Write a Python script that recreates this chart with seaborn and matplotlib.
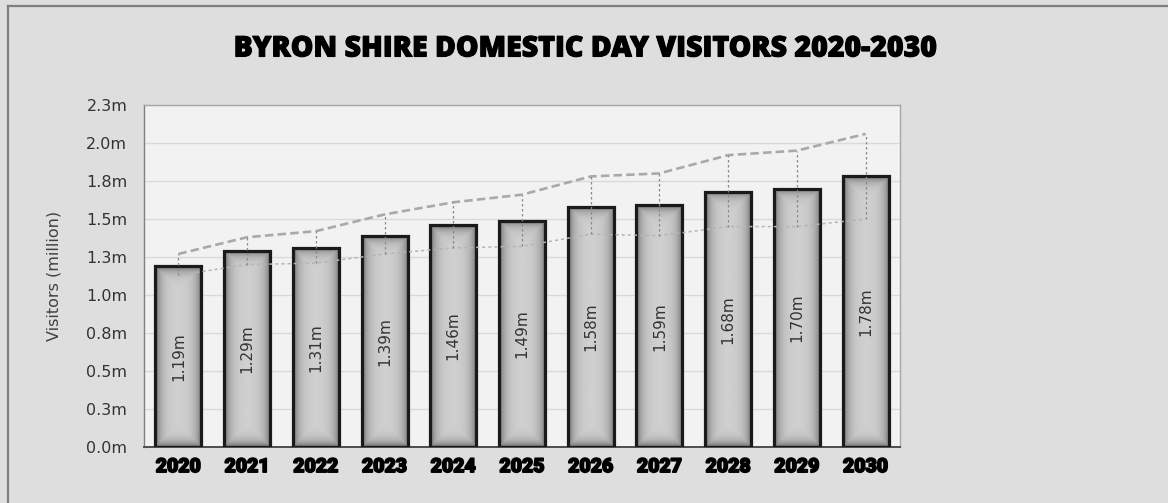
import numpy as np
import pandas as pd
import matplotlib
matplotlib.use("Agg")
import matplotlib.pyplot as plt
import matplotlib.patheffects as pe
from matplotlib.lines import Line2D
import seaborn as sns

# ---- data -------------------------------------------------------------
years = ["2020", "2021", "2022", "2023", "2024", "2025",
         "2026", "2027", "2028", "2029", "2030"]
visitors = [1.19, 1.29, 1.31, 1.39, 1.46, 1.49, 1.58, 1.59, 1.68, 1.70, 1.78]
upper_range = [1.27, 1.38, 1.42, 1.53, 1.61, 1.66, 1.78, 1.80, 1.92, 1.95, 2.06]
lower_range = [1.13, 1.20, 1.21, 1.27, 1.31, 1.32, 1.40, 1.39, 1.45, 1.45, 1.50]
y_ticks = [0.0, 0.25, 0.5, 0.75, 1.0, 1.25, 1.5, 1.75, 2.0, 2.25]
y_tick_labels = ["0.0m", "0.3m", "0.5m", "0.8m", "1.0m",
                 "1.3m", "1.5m", "1.8m", "2.0m", "2.3m"]
title = "BYRON SHIRE DOMESTIC DAY VISITORS 2020-2030"
y_label = "Visitors (million)"

df = pd.DataFrame({"year": years, "visitors": visitors})

W, H = 1168, 503
fig = plt.figure(figsize=(W / 100, H / 100), dpi=100, facecolor="#dedede")
ax = fig.add_axes([144 / W, 1 - 447 / H, 756 / W, 342 / H])
ax.set_facecolor("#f2f2f2")

sns.barplot(data=df, x="year", y="visitors", ax=ax, width=0.67,
            color="#cccccc", edgecolor="#1a1a1a", linewidth=2.3, zorder=3)

ax.set_xlim(-0.5, len(years) - 0.5)
ax.set_ylim(0, 2.25)


def bar_shade(nx, ny, light=0.82, dark=0.38, scale=5.5):
    """Grey fill that darkens towards every edge of a bar."""
    xs = np.arange(nx) + 0.5
    ys = np.arange(ny) + 0.5
    dx = np.minimum(xs, nx - xs)
    dy = np.minimum(ys, ny - ys)
    d = np.minimum(dx[None, :], dy[:, None])
    return light - (light - dark) * np.exp(-d / scale)


for patch in list(ax.patches):
    x0, y0 = patch.get_x(), patch.get_y()
    x1, y1 = x0 + patch.get_width(), y0 + patch.get_height()
    (px0, py0), (px1, py1) = ax.transData.transform([(x0, y0), (x1, y1)])
    nx, ny = max(int(round(px1 - px0)), 2), max(int(round(py1 - py0)), 2)
    im = ax.imshow(bar_shade(nx, ny), cmap="gray", vmin=0, vmax=1,
                   extent=(x0, x1, y0, y1), origin="lower", aspect="auto",
                   interpolation="bilinear", zorder=2.9)
    im.set_clip_path(patch)
    patch.set_facecolor("none")

xpos = np.arange(len(years))
ax.plot(xpos, upper_range, color="#a9a9a9", lw=1.9,
        linestyle=(0, (3.2, 1.6)), zorder=4)
ax.plot(xpos, lower_range, color="#b4b4b4", lw=1.1,
        linestyle=(0, (2, 2)), zorder=4)
ax.vlines(xpos, lower_range, upper_range, colors="#8a8a8a", lw=0.9,
          linestyles=(0, (2, 2)), zorder=4)

for i, v in enumerate(visitors):
    ax.text(i, v / 2, f"{v:.2f}m", rotation=90, ha="center", va="center",
            fontsize=11, color="#333333", zorder=5)

ax.set_xlim(-0.5, len(years) - 0.5)
ax.set_ylim(0, 2.25)
ax.set_yticks(y_ticks)
ax.set_yticklabels(y_tick_labels)
ax.yaxis.grid(True, color="#d9d9d9", lw=1)
ax.xaxis.grid(False)
ax.set_axisbelow(True)
ax.tick_params(axis="y", length=0, pad=12, labelsize=11.5, labelcolor="#333333")
ax.tick_params(axis="x", length=0, pad=8)
for lbl in ax.get_xticklabels():
    lbl.set_fontfamily(["Roboto", "DejaVu Sans"])
    lbl.set_fontweight(900)
    lbl.set_fontsize(14)
    lbl.set_color("#000000")
    lbl.set_path_effects([pe.withStroke(linewidth=1.2, foreground="#000000")])

ax.set_xlabel("")
ax.set_ylabel(y_label, fontsize=11.5, color="#404040")
ax.yaxis.set_label_coords((62 - 144) / 756, 0.5)

for side in ("top", "right", "left"):
    ax.spines[side].set_color("#a6a6a6")
    ax.spines[side].set_linewidth(1)
ax.spines["left"].set_color("#808080")
ax.spines["bottom"].set_color("#4d4d4d")
ax.spines["bottom"].set_linewidth(1.4)

fig.text(0.502, 1 - 49 / H, title, ha="center", va="center",
         fontsize=20.5, fontweight=800, family=["Open Sans", "DejaVu Sans"],
         color="#000000",
         path_effects=[pe.withStroke(linewidth=0.8, foreground="#000000")])

# outer frame (left and top edges)
fig.add_artist(Line2D([8 / W, 8 / W], [0, 1 - 6 / H], transform=fig.transFigure,
                      color="#7f7f7f", lw=1.6))
fig.add_artist(Line2D([8 / W, 1], [1 - 6 / H, 1 - 6 / H], transform=fig.transFigure,
                      color="#7f7f7f", lw=1.6))

fig.savefig("out.png", dpi=100, facecolor=fig.get_facecolor())
